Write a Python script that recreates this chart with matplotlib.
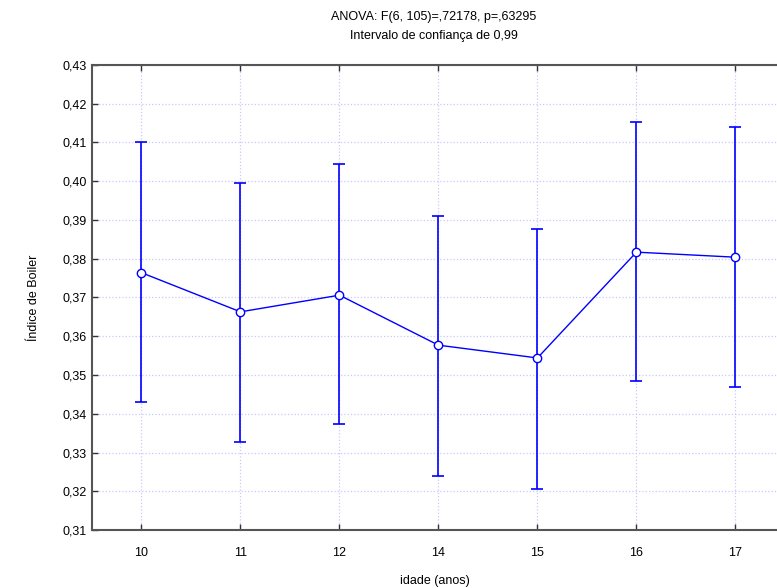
import matplotlib
matplotlib.use("Agg")
from matplotlib import pyplot as plt
from matplotlib.ticker import FuncFormatter, MultipleLocator

plt.rcParams['font.family'] = ['Liberation Sans Narrow', 'Liberation Sans', 'DejaVu Sans']

idade = ['10', '11', '12', '14', '15', '16', '17']
media = [0.3764, 0.3663, 0.3706, 0.3577, 0.3544, 0.3817, 0.3804]
ic_sup = [0.4100, 0.3996, 0.4044, 0.3911, 0.3877, 0.4153, 0.4140]
ic_inf = [0.3431, 0.3327, 0.3374, 0.3240, 0.3207, 0.3484, 0.3470]

pos = list(range(len(idade)))
err_lo = [m - lo for m, lo in zip(media, ic_inf)]
err_hi = [hi - m for m, hi in zip(media, ic_sup)]

fig = plt.figure(figsize=(7.77, 5.88), dpi=100)
ax = fig.add_axes([0.1184, 0.0986, 0.8816, 0.7909])

ax.errorbar(pos, media, yerr=[err_lo, err_hi], fmt='none', ecolor='#0000ff',
            elinewidth=1.2, capsize=4.5, capthick=1.2, zorder=3)
ax.plot(pos, media, color='#0000ff', lw=1, marker='o', ms=6,
        mfc='white', mec='#0000ff', mew=1, zorder=4)

ax.set_ylim(0.31, 0.43)
ax.set_xlim(-0.5, 6.42)
ax.yaxis.set_major_locator(MultipleLocator(0.01))
ax.yaxis.set_major_formatter(FuncFormatter(lambda v, p: ('%.2f' % v).replace('.', ',')))
ax.set_xticks(pos)
ax.set_xticklabels(idade)

ax.grid(True, color='#c8c8ff', linestyle=':', linewidth=0.9)
ax.set_axisbelow(True)

for s in ['left', 'top', 'bottom']:
    ax.spines[s].set_color('#555555')
    ax.spines[s].set_linewidth(1.5)
ax.spines['right'].set_visible(False)
ax.tick_params(direction='in', length=4, width=1, color='#333333',
               labelsize=9, top=True, pad=12)
ax.tick_params(axis='y', pad=4)

ax.set_xlabel('idade (anos)', fontsize=9, labelpad=12)
ax.set_ylabel('Índice de Boiler', fontsize=9, labelpad=16)

# titulo em duas linhas
fig.text(0.5585, 1 - 17 / 588, 'ANOVA: F(6, 105)=,72178, p=,63295',
         ha='center', va='center', fontsize=9)
fig.text(0.5585, 1 - 36 / 588, 'Intervalo de confiança de 0,99',
         ha='center', va='center', fontsize=9)

fig.savefig('out.png', dpi=100)
